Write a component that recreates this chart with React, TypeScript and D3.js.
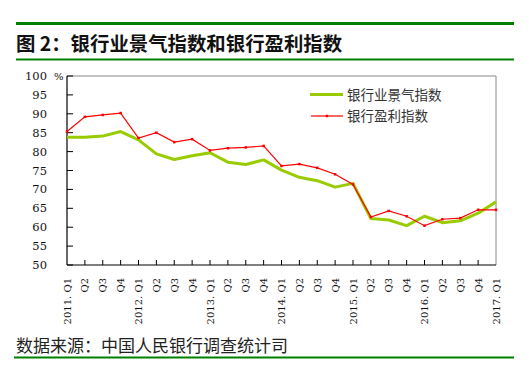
import React from "react";
import * as d3 from "d3";

const categories = [
  "2011. Q1", "Q2", "Q3", "Q4",
  "2012. Q1", "Q2", "Q3", "Q4",
  "2013. Q1", "Q2", "Q3", "Q4",
  "2014. Q1", "Q2", "Q3", "Q4",
  "2015. Q1", "Q2", "Q3", "Q4",
  "2016. Q1", "Q2", "Q3", "Q4",
  "2017. Q1",
];

const prosperity = [
  83.8, 83.8, 84.1, 85.3,
  83.1, 79.4, 77.9, 78.9,
  79.7, 77.2, 76.6, 77.8,
  75.1, 73.2, 72.3, 70.6,
  71.6, 62.3, 61.9, 60.4,
  62.9, 61.2, 61.7, 63.7,
  66.7,
];

const profit = [
  85.3, 89.2, 89.7, 90.2,
  83.6, 85.0, 82.5, 83.3,
  80.3, 80.9, 81.1, 81.5,
  76.2, 76.7, 75.7, 74.0,
  71.3, 62.7, 64.3, 62.9,
  60.4, 62.1, 62.4, 64.6,
  64.6,
];

const yTicks = [50, 55, 60, 65, 70, 75, 80, 85, 90, 95, 100];

const seriesNames = ["银行业景气指数", "银行盈利指数"];
const title = "图 2：银行业景气指数和银行盈利指数";
const source = "数据来源：中国人民银行调查统计司";

export default function App() {
  const W = 529, H = 377;
  const left = 67, right = 496, top = 76, bottom = 265;
  const x = d3.scalePoint<number>().domain(categories.map((_, i) => i)).range([left, right]);
  const y = d3.scaleLinear().domain([50, 100]).range([bottom, top]);
  const line = d3.line<number>().x((_, i) => x(i)!).y((d) => y(d));
  const serif = "'DejaVu Serif', 'Liberation Serif', serif";
  const cjk = "'Noto Sans CJK SC', sans-serif";
  const green = "#008000";
  return (
    <svg width={W} height={H} style={{ position: "absolute", left: 0, top: 0, background: "#fff" }}>
      <rect x={16} y={22} width={498} height={3} fill={green} />
      <text x={16} y={51} fontFamily={cjk} fontWeight="bold" fontSize={19.4} fill="#111">{title}</text>
      <rect x={16} y={58.5} width={498} height={2} fill={green} />

      {/* frame */}
      <line x1={left} y1={top} x2={right} y2={top} stroke="#888" strokeWidth={1} />
      <line x1={right} y1={top} x2={right} y2={bottom} stroke="#888" strokeWidth={1} />
      <line x1={left} y1={top} x2={left} y2={bottom} stroke="#000" strokeWidth={1.2} />
      <line x1={left} y1={bottom} x2={right} y2={bottom} stroke="#000" strokeWidth={1.2} />

      {yTicks.map((t) => (
        <g key={t}>
          <line x1={left} x2={left + 6} y1={y(t)} y2={y(t)} stroke="#000" />
          <text x={47} y={y(t) + 4} textAnchor="end" fontFamily={serif} fontSize={11.5} fill="#111">{t}</text>
        </g>
      ))}
      <text x={54} y={y(100) + 4} fontFamily={serif} fontSize={10} fill="#111">%</text>

      {categories.map((c, i) => (
        <g key={i}>
          {i > 0 && i < categories.length - 1 && (
            <line x1={x(i)} x2={x(i)} y1={bottom} y2={bottom - 5} stroke="#000" />
          )}
          <text
            transform={`translate(${x(i)! + 3.5},278) rotate(-90)`}
            textAnchor="end"
            fontFamily={serif}
            fontSize={10}
            fill="#111"
          >{c}</text>
        </g>
      ))}

      <path d={line(prosperity)!} fill="none" stroke="#99cc00" strokeWidth={3} strokeLinejoin="round" />
      <path d={line(profit)!} fill="none" stroke="#ff0000" strokeWidth={1.2} />
      {profit.map((v, i) => (
        <rect key={i} x={x(i)! - 1.25} y={y(v) - 1.25} width={2.5} height={2.5} fill="#ff0000" />
      ))}

      {/* legend */}
      <line x1={310} x2={343} y1={94.5} y2={94.5} stroke="#99cc00" strokeWidth={3} />
      <text x={347} y={99.5} fontFamily={cjk} fontSize={13.5} fill="#333">{seriesNames[0]}</text>
      <line x1={311} x2={343} y1={116} y2={116} stroke="#ff0000" strokeWidth={1.2} />
      <rect x={325.75} y={114.75} width={2.5} height={2.5} fill="#ff0000" />
      <text x={347} y={121} fontFamily={cjk} fontSize={13.5} fill="#333">{seriesNames[1]}</text>

      <text x={16} y={352} fontFamily={cjk} fontSize={17} fill="#222">{source}</text>
      <rect x={14} y={356.5} width={500} height={2} fill={green} />
    </svg>
  );
}
